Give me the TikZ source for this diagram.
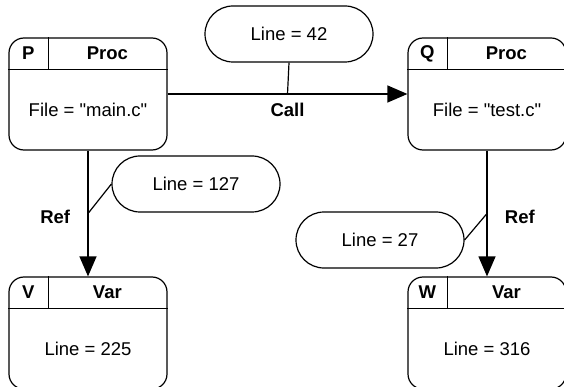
\documentclass[tikz,border=0pt]{standalone}
\usepackage{fontspec}
\setmainfont{Liberation Sans}[Ligatures=TeXOff]
\usetikzlibrary{arrows.meta}

\begin{document}
\begin{tikzpicture}[
x=1pt, y=-1pt,
line width=1.2pt,
every node/.style={font=\fontsize{18.5}{22}\selectfont},
entity/.style={
  draw,
  rounded corners=15pt,
  minimum width=158pt,
  minimum height=112pt,
  inner sep=0pt
  },
head/.style={font=\fontsize{18.5}{22}\selectfont\bfseries},
note/.style={
  draw,
  rounded corners=28pt,
  minimum width=168pt,
  minimum height=56pt
  },
link/.style={-{Triangle[length=20pt,width=17pt]}}
]
\path[use as bounding box,clip] (0,0) rectangle (564,387);
% entity boxes
\foreach \n/\x/\y/\t/\k/\b in {P/88/94/P/Proc/{File = "main.c"},
  Q/487/94/Q/Proc/{File = "test.c"},
  V/88/333/V/Var/{Line = 225},
  W/487/333/W/Var/{Line = 316}}
{
  \node[entity] (\n) at (\x,\y) {};
  \draw ([yshift=-32pt]\n.north west) -- ([yshift=-32pt]\n.north east);
  \draw ([xshift=40pt]\n.north west) -- ([xshift=40pt,yshift=-32pt]\n.north west);
  \node[head] (\n-tag) at ([xshift=20pt,yshift=-16pt]\n.north west) {\t};
  \node[head] (\n-kind) at ([xshift=99pt,yshift=-16pt]\n.north west) {\k};
  \node (\n-body) at ([yshift=-16pt]\n.center) {\b};
}
% notes
\node[note] (l42) at (289,34) {Line = 42};
\node[note] (l127) at (196,184) {Line = 127};
\node[note] (l27) at (380,240) {Line = 27};
% relations
\draw[link] (P.east) -- node[pos=.5,below=5pt,head] (call) {Call} coordinate[pos=.5] (mcall) (Q.west);
\draw[link] (P.south) -- node[pos=.5,left=14pt,yshift=-3pt,head] (refv) {Ref} coordinate[pos=.5] (mv) (V.north);
\draw[link] (Q.south) -- node[pos=.5,right=14pt,yshift=-3pt,head] (refw) {Ref} coordinate[pos=.5] (mw) (W.north);
\draw (l42.south) -- (mcall);
\draw (l127.west) -- (mv);
\draw (l27.east) -- (mw);
\end{tikzpicture}
\end{document}
